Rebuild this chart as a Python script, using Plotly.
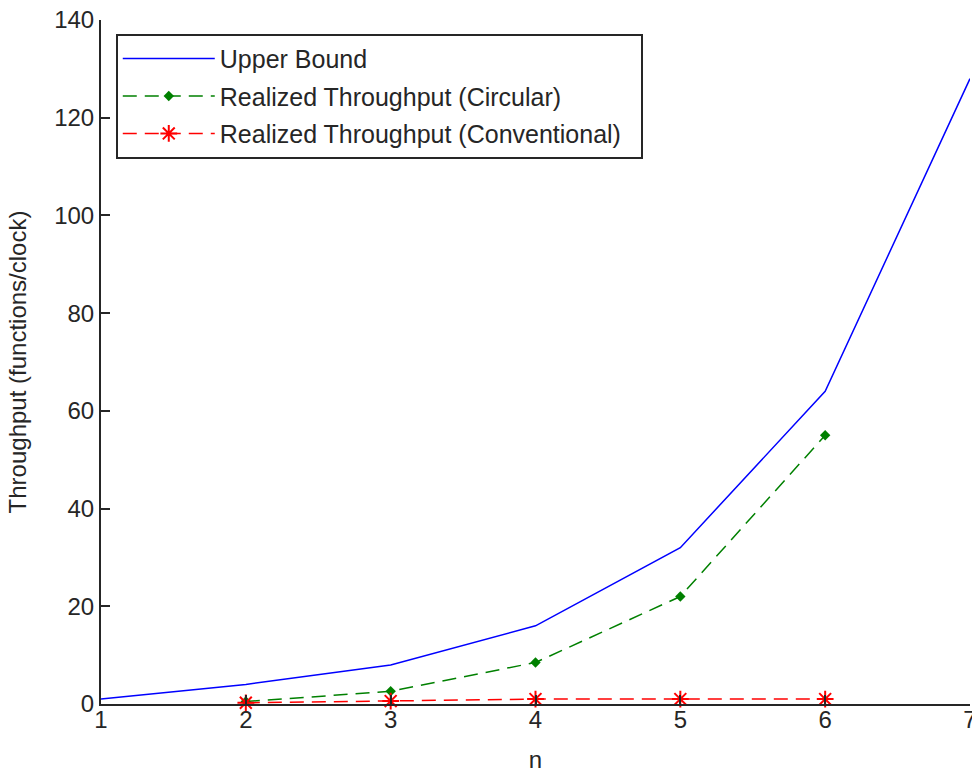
import plotly.graph_objects as go

n_upper = [1, 2, 3, 4, 5, 6, 7]
upper_bound = [1, 4, 8, 16, 32, 64, 128]

n_real = [2, 3, 4, 5, 6]
circular = [0.5, 2.6, 8.5, 22, 55]
conventional = [0.25, 0.6, 1.0, 1.0, 1.0]

x_ticks = [1, 2, 3, 4, 5, 6, 7]
y_ticks = [0, 20, 40, 60, 80, 100, 120, 140]

FONT = "Liberation Sans, Arial, sans-serif"

fig = go.Figure()
fig.add_trace(go.Scatter(
    x=n_upper, y=upper_bound, mode="lines", name="Upper Bound",
    line=dict(color="#0000ff", width=1.5),
    cliponaxis=False, legendgroup="a",
))
fig.add_trace(go.Scatter(
    x=n_real, y=circular, mode="lines+markers", name="Realized Throughput (Circular)",
    line=dict(color="#008000", width=1.5, dash="14px,8px"),
    marker=dict(symbol="diamond", size=8, color="#008000"),
    legendgroup="b",
))
fig.add_trace(go.Scatter(
    x=n_real, y=conventional, mode="lines+markers",
    name="Realized Throughput (Conventional)\u00a0\u00a0",
    line=dict(color="#ff0000", width=1.5, dash="14px,8px"),
    marker=dict(symbol="asterisk-open", size=14, line=dict(color="#ff0000", width=2)),
    cliponaxis=False, legendgroup="c",
))

fig.update_layout(
    width=972, height=775,
    margin=dict(l=101, r=2, t=20, b=71, autoexpand=False),
    paper_bgcolor="white", plot_bgcolor="white",
    font=dict(family=FONT, size=24, color="#262626"),
    showlegend=True,
    legend=dict(
        x=0.017, y=0.98, xanchor="left", yanchor="top",
        bgcolor="white", bordercolor="#262626", borderwidth=2,
        font=dict(size=25, color="#262626"),
        itemwidth=92, tracegroupgap=2,
    ),
    xaxis=dict(
        range=[1, 7], tickvals=x_ticks, ticktext=[str(v) for v in x_ticks],
        ticks="inside", ticklen=9, tickwidth=2, tickcolor="#262626",
        showline=True, linecolor="#262626", linewidth=2,
        showgrid=False, zeroline=False, mirror=False, automargin=False,
        ticklabelstandoff=-7, ticklabeloverflow="allow",
        title=dict(text="n", font=dict(size=24), standoff=19),
    ),
    yaxis=dict(
        range=[0, 140], tickvals=y_ticks, ticktext=[str(v) for v in y_ticks],
        ticks="inside", ticklen=9, tickwidth=2, tickcolor="#262626",
        showline=True, linecolor="#262626", linewidth=2,
        showgrid=False, zeroline=False, mirror=False, automargin=False,
        ticklabeloverflow="allow",
        title=dict(text="Throughput (functions/clock)", font=dict(size=24), standoff=21),
    ),
)

fig.write_html(
    "out.html",
    config={"displayModeBar": False},
    post_script="document.body.style.margin='0';document.body.style.overflow='hidden';",
)
